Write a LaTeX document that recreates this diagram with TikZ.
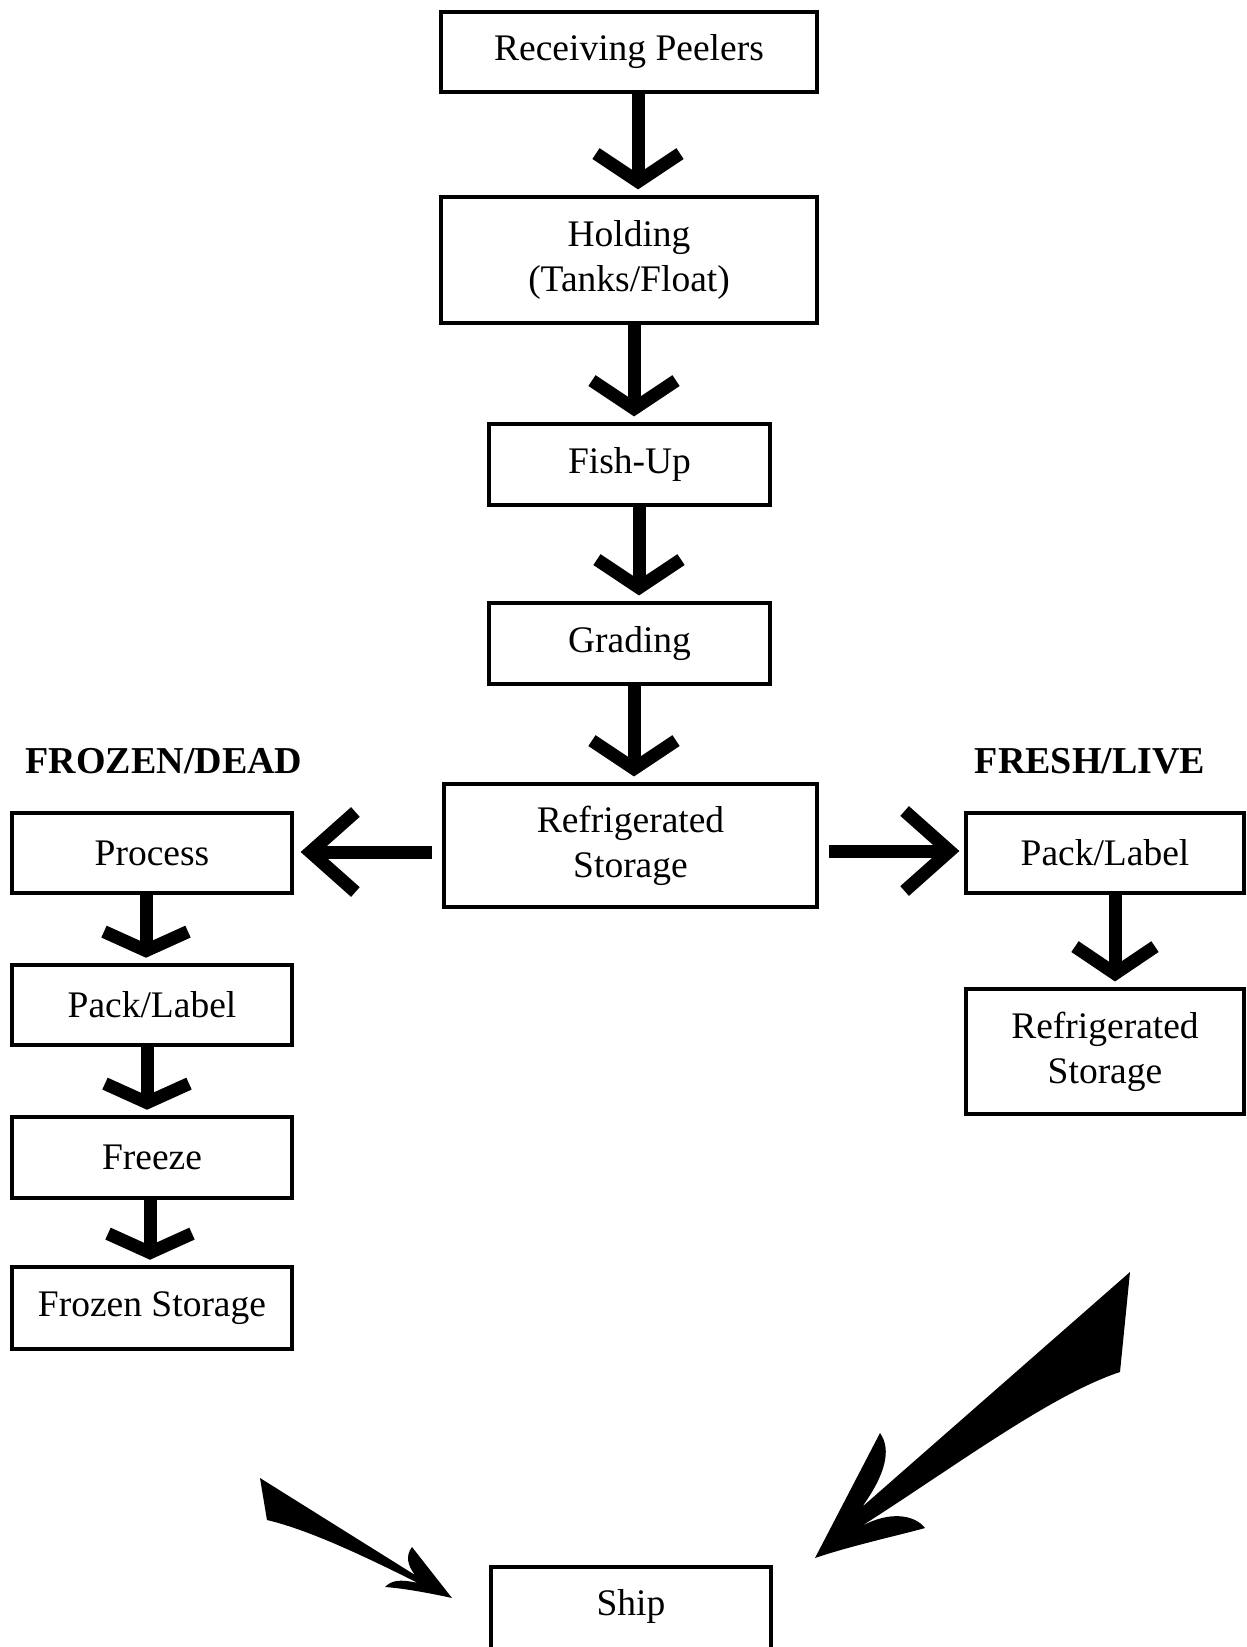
\documentclass[tikz,border=0pt]{standalone}
\usepackage{fontspec}
\setmainfont{Liberation Serif}
\usetikzlibrary{calc}
\tikzset{
  box/.style={draw, line width=4.8pt, inner sep=0pt, align=center,
    font=\fontsize{37.5}{45}\selectfont},
  shaft/.style={line width=13pt},
  headline/.style={line width=13pt, line join=miter, miter limit=10},
  grp/.style={font=\fontsize{38}{45}\selectfont\bfseries, inner sep=0pt, anchor=base},
  fatarrow/.style={fill=black, draw=none},
}
\newcommand\myvarrow[6]{%
  \path (#3,0 |- #2.north) coordinate (vtmp);
  \path (#3,0 |- #1.south) coordinate (vsrc);
  \coordinate (vtx) at ($(vtmp)+(0,-#4)$);
  \draw[shaft] (vsrc) -- (vtx);
  \draw[headline] ($(vtx)+(-#5,-#6)$) -- (vtx) -- ($(vtx)+(#5,-#6)$);
}
\begin{document}
\begin{tikzpicture}[x=1pt,y=-1pt]
\useasboundingbox (0,0) rectangle (1247,1647);
\fill[white] (0,0) rectangle (1247,1647);

% main column
\node[box, minimum width=376, minimum height=80]  (recv) at (629,52) {Receiving Peelers};
\node[box, minimum width=376, minimum height=126] (hold) at (629,260) {Holding\\(Tanks/Float)};
\node[box, minimum width=281, minimum height=81]  (fish) at (629.5,464.5) {Fish-Up};
\node[box, minimum width=281, minimum height=81]  (grad) at (629.5,643.5) {Grading};
\node[box, minimum width=373, minimum height=123] (refr) at (630.5,845.5) {Refrigerated\\Storage};

% left column
\node[grp] (lfrozen) at (164,773) {FROZEN/DEAD};
\node[box, minimum width=280, minimum height=80] (proc)  at (152,853) {Process};
\node[box, minimum width=280, minimum height=80] (packL) at (152,1005) {Pack/Label};
\node[box, minimum width=280, minimum height=81] (frz)   at (152,1157.5) {Freeze};
\node[box, minimum width=280, minimum height=82] (fstor) at (152,1308) {Frozen Storage};

% right column
\node[grp] (lfresh) at (1090,773) {FRESH/LIVE};
\node[box, minimum width=278, minimum height=80]  (packR) at (1105,853) {Pack/Label};
\node[box, minimum width=278, minimum height=125] (refrR) at (1105,1051.5) {Refrigerated\\Storage};

% ship
\node[box, minimum width=280, minimum height=100, text height=26, text depth=30] (ship) at (631,1617) {Ship};

% vertical arrows
\myvarrow{recv}{hold}{638}{13}{42}{28}
\myvarrow{hold}{fish}{634}{13}{42}{28}
\myvarrow{fish}{grad}{639}{13}{42}{28}
\myvarrow{grad}{refr}{634}{13}{42}{28}
\myvarrow{proc}{packL}{146}{12}{42}{19}
\myvarrow{packL}{frz}{147}{12}{42}{19}
\myvarrow{frz}{fstor}{150}{12}{42}{19}
\myvarrow{packR}{refrR}{1115}{13}{40}{27}

% horizontal arrows
\path (refr.west |- 0,852) coordinate (hs1);
\path (proc.east |- 0,852) coordinate (ht1);
\draw[shaft] ($(hs1)+(-10,0)$) -- ($(ht1)+(16,0)$);
\draw[headline] ($(ht1)+(61,-40)$) -- ($(ht1)+(16,0)$) -- ($(ht1)+(61,40)$);

\path (refr.east |- 0,851) coordinate (hs2);
\path (packR.west |- 0,851) coordinate (ht2);
\draw[shaft] ($(hs2)+(10,0)$) -- ($(ht2)+(-14,0)$);
\draw[headline] ($(ht2)+(-59,-40)$) -- ($(ht2)+(-14,0)$) -- ($(ht2)+(-59,40)$);

% fat arrows toward Ship
\coordinate (la1) at (260,1478);
\coordinate (la2) at (267,1520);
\fill[fatarrow] (la1) -- (415,1575)
  .. controls (408,1566) and (405,1556) .. (412,1547)
  -- (452,1598)
  .. controls (425,1592) and (400,1588) .. (385,1587)
  .. controls (392,1580) and (400,1579) .. (418,1583)
  .. controls (370,1559) and (310,1530) .. (la2)
  -- cycle;

\coordinate (ra1) at (1130,1272);
\coordinate (ra2) at (1120,1372);
\fill[fatarrow] (ra1) -- (862,1507)
  .. controls (885,1475) and (892,1450) .. (880,1433)
  -- (815,1558)
  .. controls (850,1546) and (900,1535) .. (925,1528)
  .. controls (915,1515) and (890,1510) .. (860,1527)
  .. controls (950,1470) and (1050,1395) .. (ra2)
  -- cycle;
\end{tikzpicture}
\end{document}
